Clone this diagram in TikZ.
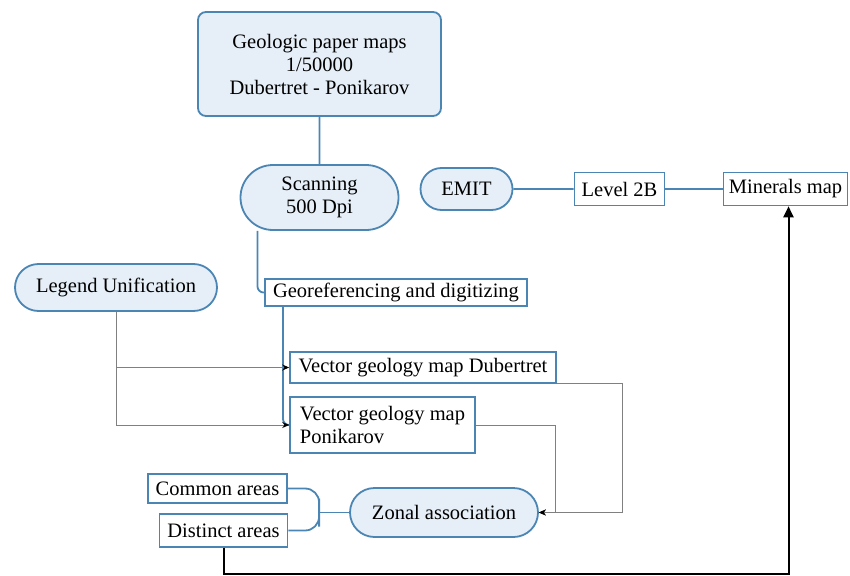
\documentclass[tikz,border=0pt]{standalone}
\usepackage{fontspec}
\setmainfont{Liberation Serif}
\usetikzlibrary{shapes.misc,positioning,arrows.meta}
\definecolor{flowblue}{HTML}{4A85B3}
\definecolor{flowfill}{HTML}{E6EFF7}
\definecolor{flowgray}{HTML}{808080}

\begin{document}
\begin{tikzpicture}[x=1pt,y=-1pt,on grid,
   font=\fontsize{20.5}{23}\selectfont,
   pill/.style={rounded rectangle,draw=flowblue,fill=flowfill,line width=1.8pt,inner sep=3pt,align=center},
   panel/.style={rectangle,rounded corners=8pt,draw=flowblue,fill=flowfill,line width=1.8pt,align=center},
   plain/.style={rectangle,draw=flowblue,fill=white,line width=1.6pt,inner sep=3pt},
   blueline/.style={draw=flowblue,line width=1.8pt},
   grayline/.style={draw=flowgray,line width=0.9pt,-{Stealth[black,length=7pt,width=6pt]}}]

   \useasboundingbox (0,0) rectangle (850,575);

   \node[panel,minimum width=243pt,minimum height=104pt] (maps) at (319.5,64) {Geologic paper maps\\1/50000\\Dubertret - Ponikarov};
   \node[pill,minimum width=164pt,minimum height=65pt] (scan) [below=133.5pt of maps] {Scanning\\500 Dpi};
   \node[plain,minimum width=262pt,minimum height=27pt] (georef) [below right=95pt and 76.5pt of scan] {Georeferencing and digitizing};
   \node[pill,minimum width=98pt,minimum height=42pt] (emit) [above right=8.5pt and 147pt of scan] {EMIT};
   \node[plain,minimum width=90pt,minimum height=33pt] (lvl) [right=153pt of emit] {Level 2B};
   \node[plain,minimum width=124pt,minimum height=33pt] (mins) [right=166pt of lvl] {Minerals map};
   \node[pill,minimum width=208pt,minimum height=47pt] (legend) [above left=5pt and 280pt of georef] {Legend Unification};
   \node[plain,minimum width=266pt,minimum height=31pt] (vdub) [below right=75pt and 27pt of georef] {Vector geology map Dubertret};
   \node[plain,minimum width=185pt,minimum height=56pt,align=left] (vpon) [below left=57.5pt and 40.5pt of vdub] {Vector geology map\\Ponikarov};
   \node[pill,minimum width=194pt,minimum height=49pt] (zonal) [below right=87.5pt and 61.5pt of vpon] {Zonal association};
   \node[plain,minimum width=139pt,minimum height=29pt] (common) [above left=24pt and 226.5pt of zonal] {Common areas};
   \node[plain,minimum width=128pt,minimum height=33pt] (distinct) [below right=42pt and 6pt of common] {Distinct areas};

   % scanning and digitizing chain
   \draw[blueline] (maps) -- (scan);
   \draw[blueline,rounded corners=6pt] ([xshift=-62pt]scan.south) |- (georef.west);
   \draw[blueline,rounded corners=6pt] ([xshift=-113pt]georef.south) |- (vpon.west);
   \draw[blueline] (emit) -- (lvl);
   \draw[blueline] (lvl) -- (mins);

   % legend and vector maps
   \draw[grayline] (legend.south) |- (vdub.west);
   \draw[grayline] (legend.south) |- (vpon.west);
   \draw[grayline] (vdub.south east) -- ++(66,0) |- (zonal.east);
   \draw[grayline] (vpon.east) -- ++(79.5,0) |- (zonal.east);

   % areas into zonal association
   \coordinate (fork) at ([xshift=-30pt]zonal.west);
   \draw[blueline,rounded corners=14pt] (common.east) -| (fork) |- (distinct.east);
   \draw[blueline] (fork) -- (zonal.west);
   \draw[line width=2pt,-{Triangle[length=11pt,width=10pt]}] (distinct.south) -- ++(0,26) -| ([xshift=3pt]mins.south);
\end{tikzpicture}
\end{document}
